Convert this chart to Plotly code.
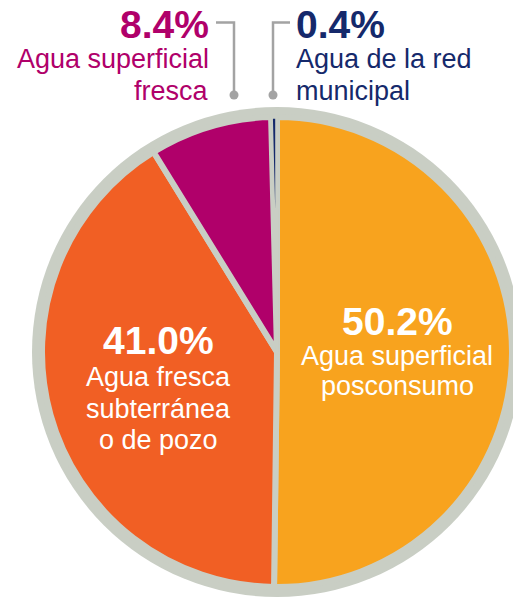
import plotly.graph_objects as go

# ---- data ----
categories = ["Agua superficial posconsumo", "Agua fresca subterránea o de pozo",
              "Agua superficial fresca", "Agua de la red municipal"]
values = [50.2, 41.0, 8.4, 0.4]
pct_labels = ["50.2%", "41.0%", "8.4%", "0.4%"]
desc_lines = [["Agua superficial", "posconsumo"],
              ["Agua fresca", "subterránea", "o de pozo"],
              ["Agua superficial", "fresca"],
              ["Agua de la red", "municipal"]]
colors = ["#F8A31E", "#F15F24", "#B0006A", "#15296B"]

W, H = 513, 599
GREY = "#C9CEC4"
LEAD = "#A3A3A3"
FONT = "Liberation Sans, Arial, sans-serif"

def px(x):
    return x / W

def py(y):
    return 1 - y / H

cx, cy = 277, 352
r_pie = 235
r_ring = 245

fig = go.Figure()
fig.add_trace(go.Pie(
    labels=categories, values=values, sort=False, direction="clockwise", rotation=0,
    marker=dict(colors=colors, line=dict(color=GREY, width=[6, 6, 6, 3.6])),
    textinfo="none", hoverinfo="label+percent", showlegend=False,
    domain=dict(x=[px(cx - r_pie), px(cx + r_pie)], y=[py(cy + r_pie), py(cy - r_pie)]),
))

shapes = [
    dict(type="circle", xref="paper", yref="paper", layer="below",
         x0=px(cx - r_ring), x1=px(cx + r_ring), y0=py(cy + r_ring), y1=py(cy - r_ring),
         fillcolor=GREY, line=dict(width=0)),
]
# leader lines for small slices
for xs, ys in [((216, 234, 234), (22.5, 22.5, 95)), ((290, 273, 273), (22.5, 22.5, 95))]:
    path = f"M {px(xs[0])} {py(ys[0])} L {px(xs[1])} {py(ys[1])} L {px(xs[2])} {py(ys[2])}"
    shapes.append(dict(type="path", xref="paper", yref="paper", path=path,
                       line=dict(color=LEAD, width=2.5)))
    rr = 4.5
    shapes.append(dict(type="circle", xref="paper", yref="paper",
                       x0=px(xs[2] - rr), x1=px(xs[2] + rr), y0=py(ys[2] + rr), y1=py(ys[2] - rr),
                       fillcolor=LEAD, line=dict(width=0)))

annotations = []

def add_block(i, x, xanchor, y_pct, y_lines, color, pct_size, txt_size):
    annotations.append(dict(text=f"<b>{pct_labels[i]}</b>", x=px(x), y=py(y_pct),
                            xref="paper", yref="paper", xanchor=xanchor, yanchor="middle",
                            showarrow=False, font=dict(family=FONT, size=pct_size, color=color)))
    for line, yl in zip(desc_lines[i], y_lines):
        annotations.append(dict(text=line, x=px(x), y=py(yl), xref="paper", yref="paper",
                                xanchor=xanchor, yanchor="middle", showarrow=False,
                                font=dict(family=FONT, size=txt_size, color=color)))

add_block(0, 397, "center", 321, [356, 386], "white", 39, 27)
add_block(1, 158, "center", 341, [377, 409, 440], "white", 39, 27)
add_block(2, 211, "right", 24.5, [59, 91], "#B0006A", 39, 27)
add_block(3, 294, "left", 24.5, [59, 91], "#15296B", 39, 27)

fig.update_layout(
    width=W, height=H, margin=dict(l=0, r=0, t=0, b=0),
    paper_bgcolor="white", plot_bgcolor="white",
    shapes=shapes, annotations=annotations, showlegend=False,
)
fig.write_html("out.html", config={"displayModeBar": False},
               post_script="document.body.style.margin='0';document.body.style.overflow='hidden';")
